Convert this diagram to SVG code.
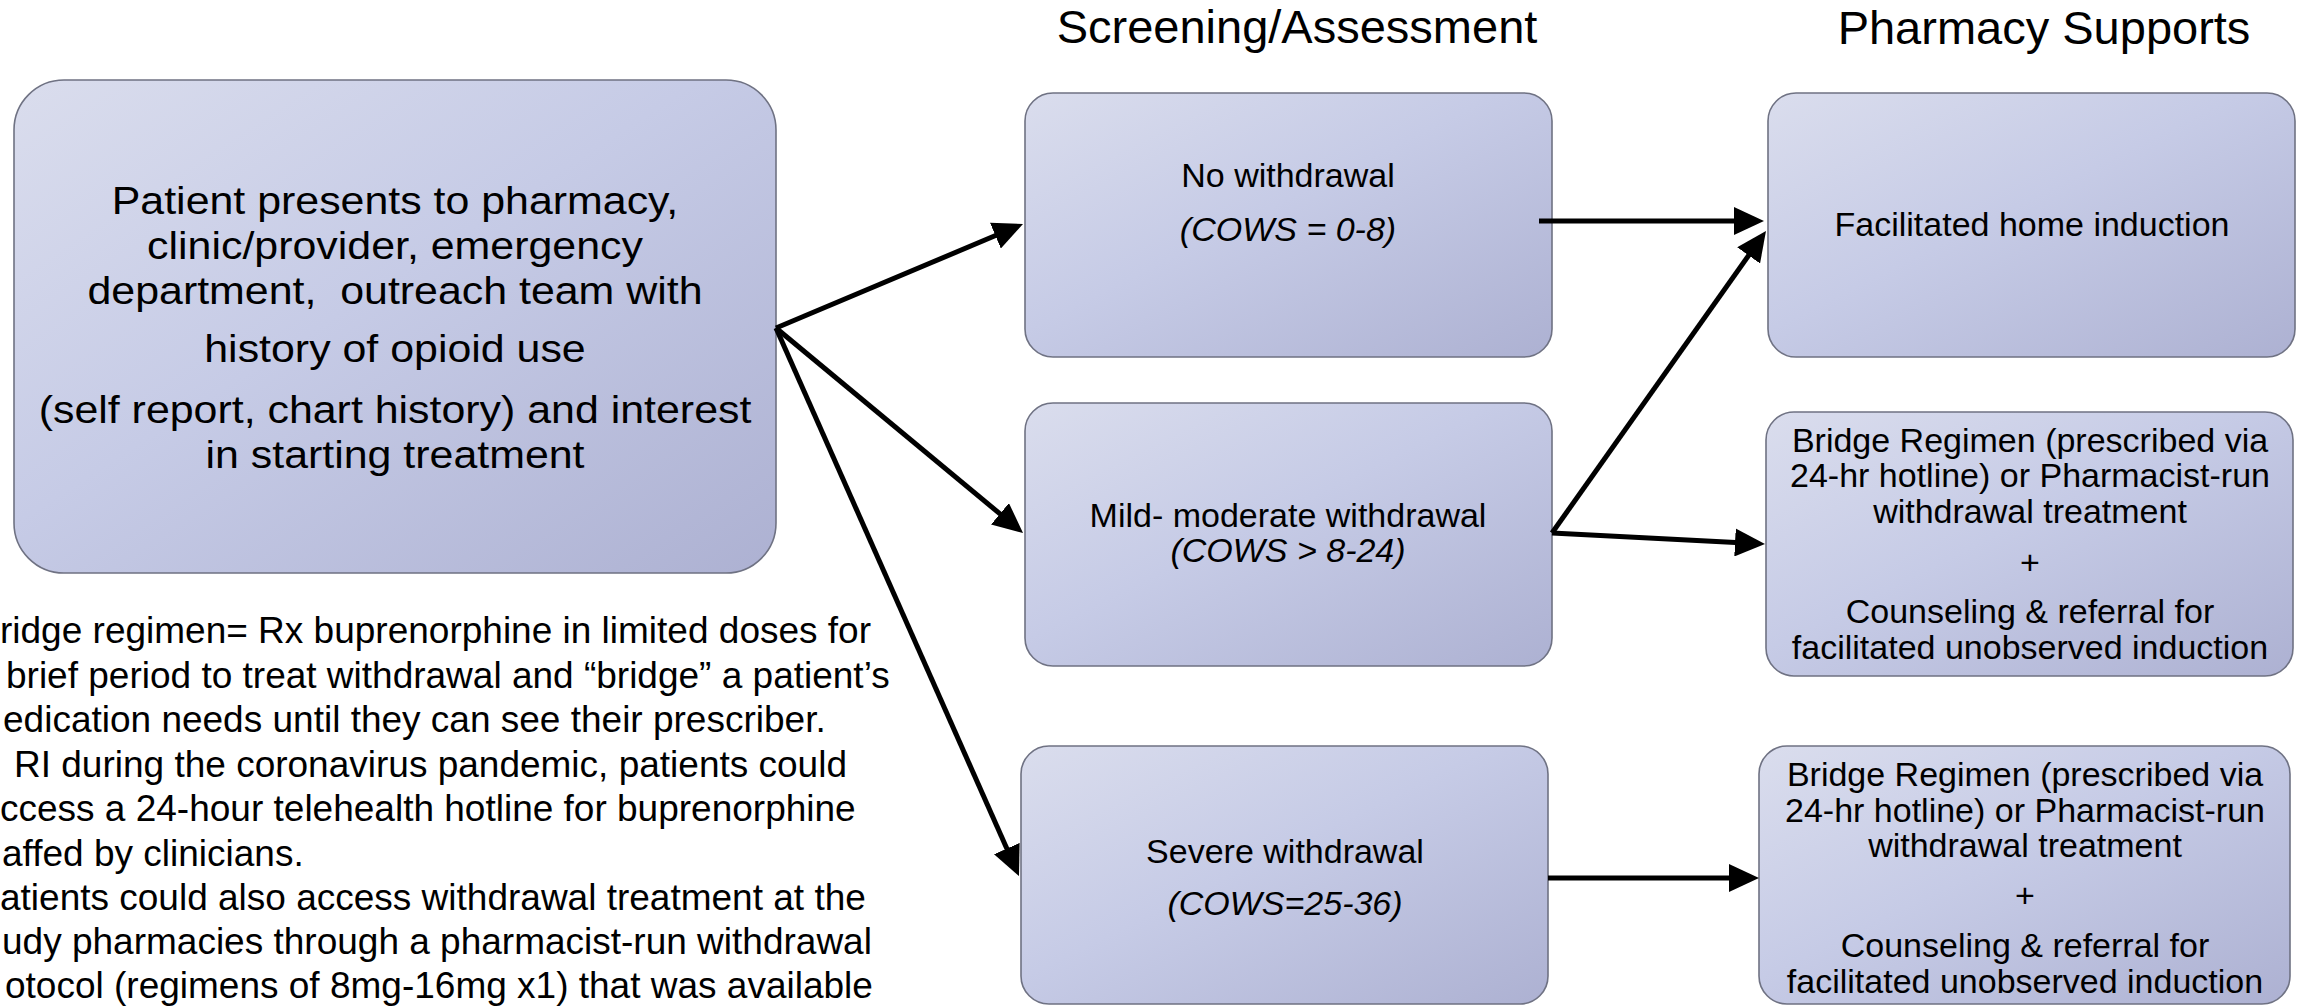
<svg xmlns="http://www.w3.org/2000/svg" width="2298" height="1006" viewBox="0 0 2298 1006">
<style>
text{font-family:"Liberation Sans",Arial,Helvetica,sans-serif;fill:#000}
.box{fill:url(#g);stroke:#6f7283;stroke-width:1.6}
.c{text-anchor:middle}
.t{font-size:39px}
.m{font-size:34px}
.h{font-size:47px}
.n{font-size:37px}
.i{font-style:italic}
.ln{stroke:#000;stroke-width:5;fill:none;marker-end:url(#ah)}
</style>
<defs>
<linearGradient id="g" x1="0" y1="0" x2="1" y2="1">
<stop offset="0" stop-color="#dadded"/>
<stop offset="0.45" stop-color="#c6cbe6"/>
<stop offset="1" stop-color="#adb1d2"/>
</linearGradient>
<marker id="ah" markerUnits="userSpaceOnUse" markerWidth="30" markerHeight="28" refX="15" refY="14" orient="auto">
<path d="M0,0 L30,14 L0,28 Z" fill="#000"/>
</marker>
</defs>
<rect width="2298" height="1006" fill="#fff"/>

<g id="title-screening"><text class="h c" x="1297" y="43">Screening/Assessment</text></g>
<g id="title-pharmacy"><text class="h c" x="2044" y="44">Pharmacy Supports</text></g>

<g id="patient">
<rect class="box" x="14" y="80" width="762" height="493" rx="50"/>
<g transform="translate(395,0) scale(1.1,1)">
<text class="t c" x="0" y="214">Patient presents to pharmacy,</text>
<text class="t c" x="0" y="259">clinic/provider, emergency</text>
<text class="t c" x="0" y="304" xml:space="preserve">department,  outreach team with</text>
<text class="t c" x="0" y="362">history of opioid use</text>
<text class="t c" x="0" y="423">(self report, chart history) and interest</text>
<text class="t c" x="0" y="468">in starting treatment</text>
</g>
</g>

<g id="no-withdrawal">
<rect class="box" x="1025" y="93" width="527" height="264" rx="28"/>
<text class="m c" x="1288" y="187">No withdrawal</text>
<text class="m c i" x="1288" y="241">(COWS = 0-8)</text>
</g>

<g id="mild-withdrawal">
<rect class="box" x="1025" y="403" width="527" height="263" rx="28"/>
<text class="m c" x="1288" y="527">Mild- moderate withdrawal</text>
<text class="m c i" x="1288" y="562">(COWS &gt; 8-24)</text>
</g>

<g id="severe-withdrawal">
<rect class="box" x="1021" y="746" width="527" height="258" rx="28"/>
<text class="m c" x="1285" y="863">Severe withdrawal</text>
<text class="m c i" x="1285" y="915">(COWS=25-36)</text>
</g>

<g id="home-induction">
<rect class="box" x="1768" y="93" width="527" height="264" rx="28"/>
<text class="m c" x="2032" y="236">Facilitated home induction</text>
</g>

<g id="bridge-mild">
<rect class="box" x="1766" y="412" width="527" height="264" rx="28"/>
<text class="m c" x="2030" y="452">Bridge Regimen (prescribed via</text>
<text class="m c" x="2030" y="487">24-hr hotline) or Pharmacist-run</text>
<text class="m c" x="2030" y="523">withdrawal treatment</text>
<text class="m c" x="2030" y="574">+</text>
<text class="m c" x="2030" y="623">Counseling &amp; referral for</text>
<text class="m c" x="2030" y="659">facilitated unobserved induction</text>
</g>

<g id="bridge-severe">
<rect class="box" x="1759" y="746" width="531" height="258" rx="28"/>
<text class="m c" x="2025" y="786">Bridge Regimen (prescribed via</text>
<text class="m c" x="2025" y="822">24-hr hotline) or Pharmacist-run</text>
<text class="m c" x="2025" y="857">withdrawal treatment</text>
<text class="m c" x="2025" y="907">+</text>
<text class="m c" x="2025" y="957">Counseling &amp; referral for</text>
<text class="m c" x="2025" y="993">facilitated unobserved induction</text>
</g>

<g id="note">
<text class="n" x="0" y="643">ridge regimen= Rx buprenorphine in limited doses for</text>
<text class="n" x="6" y="688">brief period to treat withdrawal and “bridge” a patient’s</text>
<text class="n" x="3" y="732">edication needs until they can see their prescriber.</text>
<text class="n" x="14" y="777">RI during the coronavirus pandemic, patients could</text>
<text class="n" x="0" y="821">ccess a 24-hour telehealth hotline for buprenorphine</text>
<text class="n" x="2" y="866">affed by clinicians.</text>
<text class="n" x="0" y="910">atients could also access withdrawal treatment at the</text>
<text class="n" x="2" y="954">udy pharmacies through a pharmacist-run withdrawal</text>
<text class="n" x="5" y="998">otocol (regimens of 8mg-16mg x1) that was available</text>
</g>

<g id="connectors">
<line class="ln" x1="776" y1="328" x2="1009.2" y2="229.8"/>
<line class="ln" x1="776" y1="328" x2="1011.5" y2="523.4"/>
<line class="ln" x1="776" y1="328" x2="1012.9" y2="862.3"/>
<line class="ln" x1="1539" y1="221" x2="1749" y2="221"/>
<line class="ln" x1="1552" y1="533" x2="1757.3" y2="243.2"/>
<line class="ln" x1="1552" y1="533" x2="1750" y2="543.2"/>
<line class="ln" x1="1548" y1="878" x2="1744" y2="878"/>
</g>
</svg>
